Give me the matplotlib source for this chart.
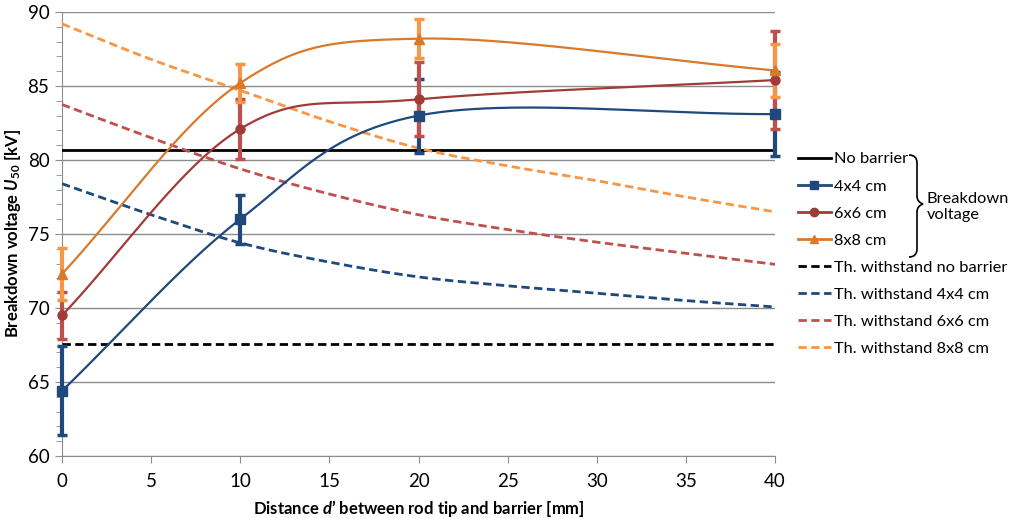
import matplotlib
matplotlib.use('Agg')
import matplotlib.pyplot as plt
from matplotlib.lines import Line2D
from matplotlib.path import Path
from matplotlib.patches import PathPatch
import numpy as np

# measured breakdown voltages (x = distance d' in mm)
dist = [0, 10, 20, 40]
u_4x4 = [64.4, 76.0, 83.0, 83.1]
err_4x4 = [3.0, 1.65, 2.5, 2.85]
u_6x6 = [69.5, 82.1, 84.1, 85.4]
err_6x6 = [1.6, 2.0, 2.5, 3.3]
u_8x8 = [72.3, 85.2, 88.2, 86.05]
err_8x8 = [1.75, 1.3, 1.3, 1.8]

u_no_barrier = 80.65
th_no_barrier = 67.6

# theoretical withstand curves
th_dist = [0, 5, 10, 15, 20, 25, 30, 35, 40]
th_4x4 = [78.4, 76.3, 74.4, 73.1, 72.1, 71.5, 71.0, 70.5, 70.07]
th_6x6 = [83.75, 81.5, 79.4, 77.7, 76.3, 75.3, 74.45, 73.7, 72.95]
th_8x8 = [89.2, 86.8, 84.7, 82.6, 80.8, 79.6, 78.6, 77.5, 76.5]

FONT = 'Lato'
plt.rcParams['font.family'] = [FONT, 'DejaVu Sans']
plt.rcParams['mathtext.fontset'] = 'custom'
plt.rcParams['mathtext.rm'] = FONT + ':bold'
plt.rcParams['mathtext.it'] = FONT + ':bold:italic'

BLUE = '#1F497D'
RED_L, RED_D = '#C0504D', '#A23B38'
ORA_L, ORA_D = '#F79646', '#D9792C'


def smooth(xs, ys, n=60):
    # excel-like smoothed line (catmull-rom as cubic bezier)
    p = np.column_stack([xs, ys]).astype(float)
    ext = np.vstack([2 * p[0] - p[1], p, 2 * p[-1] - p[-2]])
    out = []
    for i in range(len(p) - 1):
        p0, p1, p2, p3 = ext[i], ext[i + 1], ext[i + 2], ext[i + 3]
        c1 = p1 + (p2 - p0) / 6
        c2 = p2 - (p3 - p1) / 6
        t = np.linspace(0, 1, n)[:, None]
        seg = ((1 - t) ** 3) * p1 + 3 * ((1 - t) ** 2) * t * c1 + 3 * (1 - t) * t ** 2 * c2 + t ** 3 * p2
        out.append(seg if i == 0 else seg[1:])
    s = np.vstack(out)
    return s[:, 0], s[:, 1]


W, H = 1026, 519
fig = plt.figure(figsize=(W / 100, H / 100), dpi=100)
ax = fig.add_axes([62 / W, 1 - 456 / H, (775 - 62) / W, (456 - 12) / H])

ax.set_xlim(0, 40)
ax.set_ylim(60, 90)
ax.set_xticks(range(0, 41, 5))
ax.set_yticks(range(60, 91, 5))
ax.set_yticks(range(60, 91), minor=True)
ax.grid(axis='y', which='major', color='#8c8c8c', linewidth=1)
ax.set_axisbelow(True)
for s in ['top', 'right']:
    ax.spines[s].set_visible(False)
for s in ['left', 'bottom']:
    ax.spines[s].set_color('#8c8c8c')
ax.tick_params(axis='both', which='major', length=5, color='#8c8c8c', labelsize=13.5, pad=4)
ax.tick_params(axis='y', which='minor', length=4, color='#8c8c8c')
ax.tick_params(axis='x', pad=7)

dash = (3, 1.6)
# horizontal reference lines
ax.axhline(u_no_barrier, color='black', linewidth=2, zorder=3)
ax.axhline(th_no_barrier, color='black', linewidth=2, dashes=dash, zorder=3)

# theoretical withstand
for ys, c in [(th_4x4, BLUE), (th_6x6, RED_L), (th_8x8, ORA_L)]:
    sx, sy = smooth(th_dist, ys)
    ax.plot(sx, sy, color=c, linewidth=2, dashes=dash, zorder=3)

# error bars
for ys, es, c, z in [(u_4x4, err_4x4, BLUE, 4), (u_6x6, err_6x6, RED_L, 4.1), (u_8x8, err_8x8, ORA_L, 4.2)]:
    eb = ax.errorbar(dist, ys, yerr=es, fmt='none', ecolor=c, elinewidth=3, capsize=3.5,
                     capthick=2.5, zorder=z)
    for art in eb.lines[1] + eb.lines[2]:
        art.set_clip_on(False)

# smoothed measurement lines with markers
series = [(u_4x4, BLUE, 's'), (u_6x6, RED_D, 'o'), (u_8x8, ORA_D, '^')]
for ys, c, m in series:
    sx, sy = smooth(dist, ys)
    ax.plot(sx, sy, color=c, linewidth=1.6, zorder=5, clip_on=False)
    ax.plot(dist, ys, linestyle='none', marker=m, markersize=6.5, color=c, zorder=6, clip_on=False)

ax.set_xlabel('Distance $\\mathit{d}$\u2019 between rod tip and barrier [mm]', fontsize=12, fontweight='bold', labelpad=6)
ax.set_ylabel('Breakdown voltage $\\mathit{U}_{\\mathit{50}}$ [kV]', fontsize=12, fontweight='bold', labelpad=3)

handles = [
    Line2D([], [], color='black', linewidth=2),
    Line2D([], [], color=BLUE, linewidth=2, marker='s', markersize=6),
    Line2D([], [], color=RED_D, linewidth=2, marker='o', markersize=6),
    Line2D([], [], color=ORA_D, linewidth=2, marker='^', markersize=6),
    Line2D([], [], color='black', linewidth=2, dashes=dash),
    Line2D([], [], color=BLUE, linewidth=2, dashes=dash),
    Line2D([], [], color=RED_L, linewidth=2, dashes=dash),
    Line2D([], [], color=ORA_L, linewidth=2, dashes=dash),
]
labels = ['No barrier', '4x4 cm', '6x6 cm', '8x8 cm', 'Th. withstand no barrier',
          'Th. withstand 4x4 cm', 'Th. withstand 6x6 cm', 'Th. withstand 8x8 cm']
fig.legend(handles, labels, loc='upper left', bbox_to_anchor=(798 / W, 1 - 152 / H),
           frameon=False, fontsize=11.8, handlelength=2.0, handletextpad=0.2,
           labelspacing=0.77, borderpad=0, borderaxespad=0)


def px(x, y):
    return (x / W, 1 - y / H)


# curly brace grouping the measured series
bx0, bx1, bx2 = 909, 917, 923
top, mid, bot = 155, 204, 257
verts = [px(bx0, top), px(bx1, top), px(bx1, top + 8), px(bx1, top + 14),
         px(bx1, mid - 8), px(bx1, mid - 2), px(bx2, mid),
         px(bx1, mid + 2), px(bx1, mid + 8),
         px(bx1, bot - 14), px(bx1, bot - 8), px(bx1, bot), px(bx0, bot)]
codes = [Path.MOVETO, Path.CURVE3, Path.CURVE3, Path.LINETO,
         Path.LINETO, Path.CURVE3, Path.CURVE3,
         Path.CURVE3, Path.CURVE3,
         Path.LINETO, Path.LINETO, Path.CURVE3, Path.CURVE3]
brace = PathPatch(Path(verts, codes), transform=fig.transFigure, facecolor='none',
                  edgecolor='black', linewidth=1.2)
fig.add_artist(brace)
fig.text(927 / W, 1 - 207 / H, 'Breakdown\nvoltage', fontsize=11.8, ha='left', va='center', linespacing=1.25)

plt.savefig('out.png', dpi=100)
